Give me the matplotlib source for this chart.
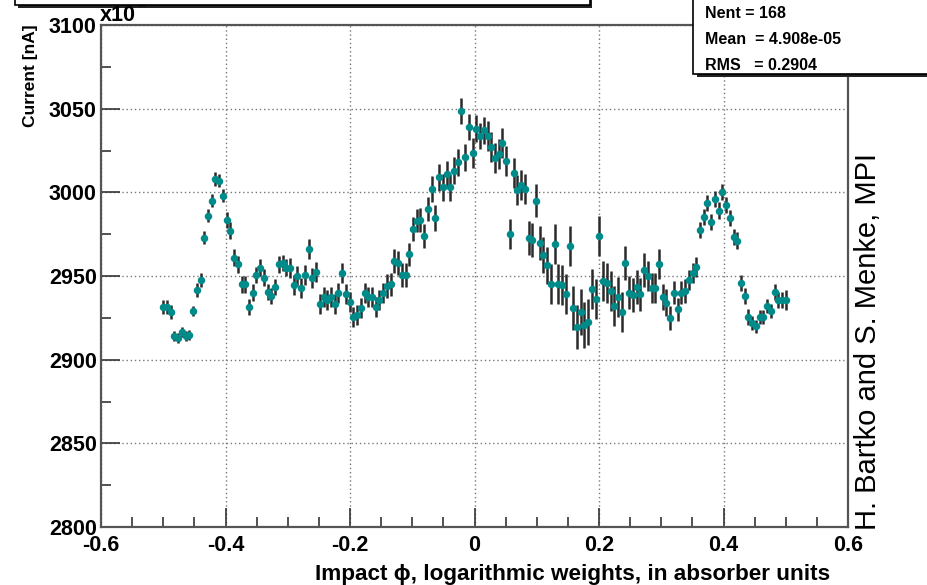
import numpy as np
import matplotlib
matplotlib.use("Agg")
import matplotlib.pyplot as plt
from matplotlib.patches import Rectangle
from matplotlib.ticker import MultipleLocator, FixedLocator

# Profile of the measured current versus impact position (168 bins in [-0.5, 0.5])
phi_lo, phi_hi, n_bins = -0.5, 0.5, 168

current = [
    2931.5, 2931.5, 2928.5, 2914.0, 2913.0, 2916.5, 2914.0, 2914.7, 2929.0, 2941.6,
    2947.6, 2973.0, 2986.0, 2995.0, 3008.0, 3007.0, 2998.0, 2983.5, 2977.0, 2961.0,
    2957.0, 2945.0, 2945.0, 2931.5, 2940.0, 2950.6, 2955.0, 2949.0, 2940.4, 2938.0,
    2943.4, 2957.0, 2957.8, 2955.0, 2955.0, 2944.6, 2950.0, 2943.0, 2950.6, 2966.0,
    2949.0, 2952.4, 2933.0, 2937.5, 2935.6, 2937.5, 2933.0, 2940.0, 2951.8, 2939.0,
    2934.5, 2925.5, 2926.7, 2930.8, 2940.0, 2937.5, 2937.5, 2931.5, 2935.6, 2940.0,
    2944.0, 2945.0, 2959.0, 2957.8, 2950.6, 2950.6, 2963.0, 2978.0, 2983.0, 2983.5,
    2974.0, 2990.0, 3002.0, 2984.7, 3009.0, 3003.0, 3011.0, 3003.0, 3013.0, 3018.0,
    3048.6, 3021.0, 3039.0, 3023.5, 3038.0, 3033.6, 3037.0, 3033.6, 3027.0, 3020.5,
    3023.0, 3029.5, 3018.7, 2975.0, 3011.6, 3001.4, 3004.4, 3002.0, 2972.7, 2971.5,
    2995.0, 2969.7, 2962.6, 2956.5, 2945.0, 2969.0, 2945.0, 2944.6, 2939.0, 2968.0,
    2930.8, 2919.5, 2928.5, 2920.7, 2922.5, 2942.0, 2936.3, 2974.0, 2947.0, 2945.8,
    2941.0, 2932.0, 2937.5, 2928.5, 2957.8, 2940.0, 2938.6, 2943.4, 2939.0, 2953.6,
    2950.0, 2943.0, 2943.0, 2957.0, 2937.5, 2934.0, 2925.0, 2940.0, 2930.0, 2940.0,
    2941.0, 2947.6, 2951.8, 2955.4, 2977.5, 2985.3, 2993.6, 2982.3, 2996.0, 2989.0,
    3000.2, 2992.4, 2984.7, 2973.3, 2971.0, 2945.8, 2938.0, 2925.5, 2922.0, 2920.0,
    2925.5, 2925.5, 2932.0, 2929.0, 2940.4, 2935.6, 2935.6, 2935.6,
]

current_err = [
    4, 4, 4, 3, 3, 3, 3, 3, 3, 4,
    4, 4, 4, 4, 4, 4, 4, 5, 5, 5,
    5, 5, 5, 5, 5, 5, 5, 5, 5, 5,
    5, 5, 5, 5, 6, 6, 6, 6, 6, 6,
    6, 6, 6, 6, 6, 6, 6, 6, 6, 6,
    6, 6, 6, 6, 6, 6, 6, 6, 6, 6,
    7, 7, 7, 7, 7, 7, 7, 7, 7, 7,
    7, 7, 8, 8, 8, 8, 8, 8, 8, 8,
    8, 8, 8, 9, 8, 8, 8, 9, 9, 9,
    9, 9, 9, 9, 9, 9, 9, 9, 10, 10,
    10, 10, 11, 11, 12, 12, 12, 12, 12, 12,
    13, 13, 14, 14, 14, 12, 12, 12, 12, 12,
    12, 12, 12, 12, 10, 10, 10, 10, 10, 10,
    9, 9, 9, 9, 8, 8, 7, 7, 7, 7,
    7, 6, 6, 6, 5, 5, 5, 5, 5, 5,
    5, 5, 5, 5, 5, 5, 5, 5, 4, 4,
    4, 4, 4, 4, 5, 5, 5, 6,
]

x_ticks = [-0.6, -0.4, -0.2, 0.0, 0.2, 0.4, 0.6]
x_tick_labels = ["-0.6", "-0.4", "-0.2", "0", "0.2", "0.4", "0.6"]
y_ticks = [2800, 2850, 2900, 2950, 3000, 3050, 3100]

stats_lines = ["Nent = 168", "Mean  = 4.908e-05", "RMS   = 0.2904"]
x_title = "Impact \u03d5, logarithmic weights, in absorber units"
y_title = "Current [nA]"
credit = "H. Bartko and S. Menke, MPI"

W, H = 927, 585
fig = plt.figure(figsize=(W / 100, H / 100), dpi=100)
fig.patch.set_facecolor("white")

def fx(px):
    return px / W

def fy(py):
    return 1 - py / H

FONT = ["Liberation Sans", "DejaVu Sans"]

ax = fig.add_axes([fx(101), fy(527), fx(848) - fx(101), fy(25) - fy(527)])

phi = np.linspace(phi_lo, phi_hi, n_bins)
ax.errorbar(phi, current, yerr=current_err, fmt="o", color="#008b8b",
            markersize=5.4, markeredgewidth=0, ecolor="#2a2a2a",
            elinewidth=1.8, capsize=0, zorder=3)

ax.set_xlim(-0.6, 0.6)
ax.set_ylim(2800, 3100)
ax.xaxis.set_major_locator(FixedLocator(x_ticks))
ax.set_xticklabels(x_tick_labels)
ax.xaxis.set_minor_locator(MultipleLocator(0.05))
ax.yaxis.set_major_locator(FixedLocator(y_ticks))
ax.yaxis.set_minor_locator(MultipleLocator(25))

ax.tick_params(which="both", direction="in", top=False, right=False,
               color="#333333", width=1.2)
ax.tick_params(which="major", length=14)
ax.tick_params(axis="x", which="major", pad=6)
ax.tick_params(axis="y", which="major", pad=3)
ax.tick_params(which="minor", length=7)
for lab in ax.get_xticklabels() + ax.get_yticklabels():
    lab.set_fontfamily(FONT)
    lab.set_fontweight("bold")
    lab.set_fontsize(15.5)

ax.grid(True, which="major", color="#777777", linestyle=(0, (1, 2)), linewidth=1.0)
ax.set_axisbelow(True)
for s in ax.spines.values():
    s.set_color("#555555")
    s.set_linewidth(1.6)

# axis titles, ROOT style: x title right-aligned, y title at the top
fig.text(fx(830), fy(580), x_title, fontfamily=FONT, fontweight="bold",
         fontsize=16.2, ha="right", va="baseline")
fig.text(fx(31), fy(24), y_title, fontfamily=FONT, fontweight="bold",
         fontsize=12.5, rotation=90, ha="center", va="top")

# exponent marker above the y axis
fig.text(fx(100), fy(21), "x10", fontfamily=FONT, fontweight="bold",
         fontsize=15.5, ha="left", va="baseline")
fig.text(fx(138), fy(10), "\u2013", fontfamily=FONT, fontweight="bold",
         fontsize=10, ha="left", va="baseline")

# title pave (only its lower edge lies inside the canvas)
fig.patches.append(Rectangle((fx(18), fy(8)), fx(592) - fx(18), fy(-30) - fy(8),
                             transform=fig.transFigure, facecolor="#222222",
                             edgecolor="none", zorder=1))
fig.patches.append(Rectangle((fx(15), fy(5)), fx(590) - fx(15), fy(-30) - fy(5),
                             transform=fig.transFigure, facecolor="white",
                             edgecolor="black", linewidth=1.2, zorder=2))

# statistics box with drop shadow
fig.patches.append(Rectangle((fx(697), fy(77)), fx(940) - fx(697), fy(-30) - fy(77),
                             transform=fig.transFigure, facecolor="#222222",
                             edgecolor="none", zorder=4))
fig.patches.append(Rectangle((fx(693), fy(74)), fx(940) - fx(693), fy(-30) - fy(74),
                             transform=fig.transFigure, facecolor="white",
                             edgecolor="black", linewidth=1.2, zorder=5))
for i, line in enumerate(stats_lines):
    fig.text(fx(705), fy(18 + 26 * i), line, fontfamily=FONT, fontweight="bold",
             fontsize=11.5, ha="left", va="baseline", zorder=6)

fig.text(fx(868), fy(342), credit, fontfamily=FONT, fontsize=21,
         rotation=90, ha="center", va="center")

fig.savefig("out.png", dpi=100)
